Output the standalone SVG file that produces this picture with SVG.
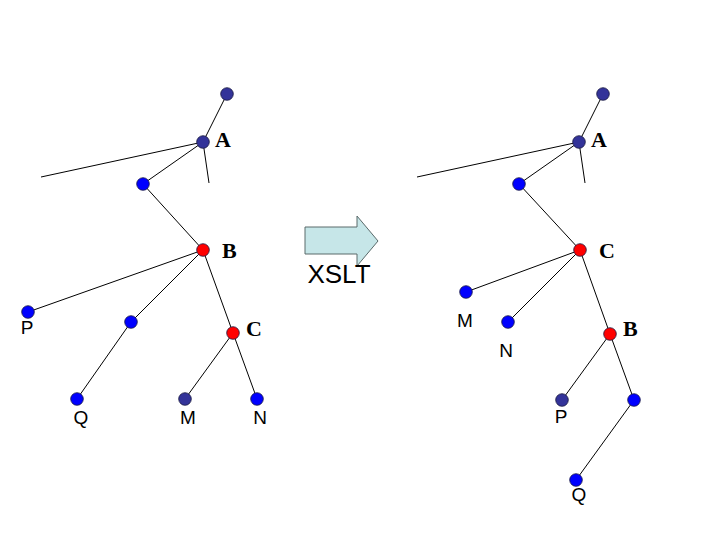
<svg xmlns="http://www.w3.org/2000/svg" width="720" height="540" viewBox="0 0 720 540">
<style>
.e{stroke:#000;stroke-width:1;fill:none}
.n{stroke:#1a1a40;stroke-width:0.8}
.d{fill:#333399}
.b{fill:#0000ff}
.r{fill:#ff0000}
.lt{font-family:"Liberation Serif",serif;font-weight:bold;font-size:22px;fill:#000}
.ls{font-family:"Liberation Sans",sans-serif;font-size:19px;fill:#000;text-anchor:middle}
</style>
<rect width="720" height="540" fill="#fff"/>
<g id="connectors">
<line class="e" x1="227" y1="94" x2="203" y2="142"/>
<line class="e" x1="203" y1="142" x2="41" y2="177"/>
<line class="e" x1="203" y1="142" x2="209" y2="183"/>
<line class="e" x1="203" y1="142" x2="143" y2="184"/>
<line class="e" x1="143" y1="184" x2="203" y2="250"/>
<line class="e" x1="203" y1="250" x2="28" y2="312"/>
<line class="e" x1="203" y1="250" x2="131" y2="322"/>
<line class="e" x1="203" y1="250" x2="233" y2="333"/>
<line class="e" x1="131" y1="322" x2="77" y2="399"/>
<line class="e" x1="233" y1="333" x2="185" y2="399"/>
<line class="e" x1="233" y1="333" x2="257" y2="399"/>
<line class="e" x1="603" y1="94" x2="579" y2="142"/>
<line class="e" x1="579" y1="142" x2="417" y2="177"/>
<line class="e" x1="579" y1="142" x2="585" y2="183"/>
<line class="e" x1="579" y1="142" x2="519" y2="184"/>
<line class="e" x1="519" y1="184" x2="580" y2="250"/>
<line class="e" x1="580" y1="250" x2="466" y2="292"/>
<line class="e" x1="580" y1="250" x2="508" y2="322"/>
<line class="e" x1="580" y1="250" x2="610" y2="334"/>
<line class="e" x1="610" y1="334" x2="562" y2="400"/>
<line class="e" x1="610" y1="334" x2="634" y2="400"/>
<line class="e" x1="634" y1="400" x2="576" y2="480"/>
</g>
<g id="L-top"><circle class="n d" cx="227" cy="94" r="6.3"/></g>
<g id="L-A"><circle class="n d" cx="203" cy="142" r="6.3"/><text class="lt" x="215" y="147">A</text></g>
<g id="L-X"><circle class="n b" cx="143" cy="184" r="6.3"/></g>
<g id="L-B"><circle class="n r" cx="203" cy="250" r="6.3"/><text class="lt" x="222" y="258">B</text></g>
<g id="L-P"><circle class="n b" cx="28" cy="312" r="6.3"/><text class="ls" x="27" y="334">P</text></g>
<g id="L-Y"><circle class="n b" cx="131" cy="322" r="6.3"/></g>
<g id="L-C"><circle class="n r" cx="233" cy="333" r="6.3"/><text class="lt" x="246" y="336">C</text></g>
<g id="L-Q"><circle class="n b" cx="77" cy="399" r="6.3"/><text class="ls" x="81" y="424">Q</text></g>
<g id="L-M"><circle class="n d" cx="185" cy="399" r="6.3"/><text class="ls" x="188" y="424">M</text></g>
<g id="L-N"><circle class="n b" cx="257" cy="399" r="6.3"/><text class="ls" x="260" y="424">N</text></g>
<g id="R-top"><circle class="n d" cx="603" cy="94" r="6.3"/></g>
<g id="R-A"><circle class="n d" cx="579" cy="142" r="6.3"/><text class="lt" x="591" y="147">A</text></g>
<g id="R-X"><circle class="n b" cx="519" cy="184" r="6.3"/></g>
<g id="R-C"><circle class="n r" cx="580" cy="250" r="6.3"/><text class="lt" x="599" y="258">C</text></g>
<g id="R-M"><circle class="n b" cx="466" cy="292" r="6.3"/><text class="ls" x="465" y="327">M</text></g>
<g id="R-N"><circle class="n b" cx="508" cy="322" r="6.3"/><text class="ls" x="506" y="357">N</text></g>
<g id="R-B"><circle class="n r" cx="610" cy="334" r="6.3"/><text class="lt" x="623" y="336">B</text></g>
<g id="R-P"><circle class="n d" cx="562" cy="400" r="6.3"/><text class="ls" x="561" y="423">P</text></g>
<g id="R-Y"><circle class="n b" cx="634" cy="400" r="6.3"/></g>
<g id="R-Q"><circle class="n b" cx="576" cy="480" r="6.3"/><text class="ls" x="579" y="501">Q</text></g>
<g id="xslt">
<polygon points="305,227 357,227 357,216 378,241 357,266 357,254 305,254" fill="#c6e6e8" stroke="#5a6a6a" stroke-width="1"/>
<text x="339" y="283" font-family="Liberation Sans, sans-serif" font-size="26" text-anchor="middle" fill="#000">XSLT</text>
</g>
</svg>
